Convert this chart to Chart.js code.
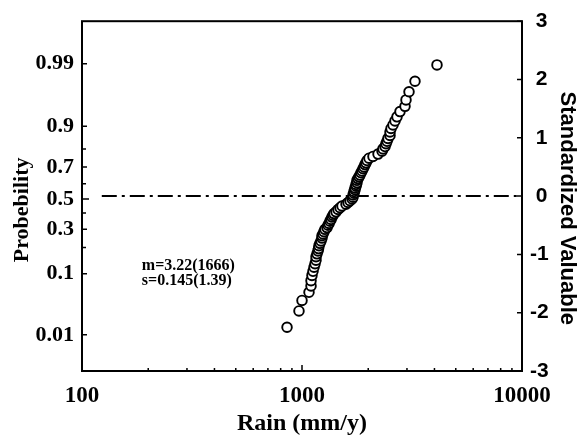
<!DOCTYPE html>
<html>
<head>
<meta charset="utf-8">
<script src="https://cdn.jsdelivr.net/npm/chart.js@4.4.1/dist/chart.umd.min.js"></script>
<style>
  html, body { margin: 0; padding: 0; background: #fff; }
  #wrap { width: 580px; height: 440px; }
</style>
</head>
<body>
<div id="wrap"><canvas id="rain-plot" width="580" height="440"></canvas></div>
<script>
// annual rain (mm/y), sorted
const rain = [855, 969, 1000, 1076, 1099, 1099, 1110, 1122, 1134, 1146,
  1158, 1158, 1170, 1182, 1189, 1195, 1207, 1220, 1233, 1233,
  1246, 1259, 1272, 1299, 1313, 1327, 1341, 1355, 1369, 1384,
  1398, 1428, 1458, 1489, 1520, 1585, 1619, 1653, 1689, 1706,
  1706, 1724, 1724, 1742, 1742, 1761, 1761, 1778, 1778, 1797,
  1816, 1835, 1854, 1874, 1894, 1913, 1933, 1954, 1975, 2016,
  2102, 2216, 2311, 2335, 2384, 2409, 2435, 2460, 2512, 2512,
  2539, 2592, 2647, 2703, 2789, 2939, 2970, 3065, 3263, 4108];

// standardized value of each point
const stdValue = [-2.25, -1.97, -1.79, -1.65, -1.54, -1.45, -1.36, -1.29, -1.22, -1.16,
  -1.10, -1.04, -0.99, -0.94, -0.90, -0.85, -0.81, -0.77, -0.72, -0.68,
  -0.65, -0.61, -0.57, -0.54, -0.50, -0.47, -0.43, -0.40, -0.36, -0.33,
  -0.30, -0.27, -0.23, -0.20, -0.17, -0.14, -0.11, -0.08, -0.05, -0.02,
  0.02, 0.05, 0.08, 0.11, 0.14, 0.17, 0.20, 0.23, 0.27, 0.30,
  0.33, 0.36, 0.40, 0.43, 0.47, 0.50, 0.54, 0.57, 0.61, 0.65,
  0.68, 0.72, 0.77, 0.81, 0.85, 0.90, 0.94, 0.99, 1.04, 1.10,
  1.16, 1.22, 1.29, 1.36, 1.45, 1.54, 1.65, 1.79, 1.97, 2.25];

// probability axis: labels and where they sit on the standardized scale (as drawn)
const probLabels = ['0.01', '0.1', '0.3', '0.5', '0.7', '0.9', '0.99'];
const probZ = [-2.38, -1.33, -0.57, -0.05, 0.50, 1.20, 2.27];
const probMinorZ = [-0.88, -0.29, 0.21, 0.81];

const xTicks = [100, 1000, 10000];
const xMinor = [200, 300, 400, 500, 600, 700, 800, 900, 2000, 3000, 4000, 5000, 6000, 7000, 8000, 9000];
const stdTicks = [-3, -2, -1, 0, 1, 2, 3];

const meanLine = [{x: 123, y: 0}, {x: 10000, y: 0}];
const notes = [
  {x: 187, y: -1.19, text: 'm=3.22(1666)'},
  {x: 187, y: -1.45, text: 's=0.145(1.39)'}
];

const serif = 'Liberation Serif, Times New Roman, serif';
const sans = 'Liberation Sans, Arial, sans-serif';

const pluginFrame = {
  id: 'frame',
  afterDraw: (chart) => {
    var ctx = chart.ctx,
    area = chart.chartArea,
    xs = chart.scales.x,
    ys = chart.scales.y;
    ctx.save();
    ctx.strokeStyle = '#000';
    ctx.lineWidth = 2;
    ctx.strokeRect(area.left, area.top, area.right - area.left, area.bottom - area.top);

    ctx.lineWidth = 1.5;
    ctx.beginPath();
    probZ.forEach((z, i) => {
      var py = ys.getPixelForValue(z);
      ctx.moveTo(area.left, py);
      ctx.lineTo(area.left + (probLabels[i] === '0.5' ? 7 : 5), py);
    });
    probMinorZ.forEach(z => {
      var py = ys.getPixelForValue(z);
      ctx.moveTo(area.left, py);
      ctx.lineTo(area.left + 4, py);
    });
    stdTicks.forEach(v => {
      var py = ys.getPixelForValue(v);
      ctx.moveTo(area.right, py);
      ctx.lineTo(area.right - 5, py);
    });
    xTicks.forEach(v => {
      var px = xs.getPixelForValue(v);
      ctx.moveTo(px, area.bottom);
      ctx.lineTo(px, area.bottom - 6);
    });
    xMinor.forEach(v => {
      var px = xs.getPixelForValue(v);
      ctx.moveTo(px, area.bottom);
      ctx.lineTo(px, area.bottom - 3);
    });
    ctx.stroke();

    ctx.fillStyle = '#000';
    ctx.font = 'bold 16px ' + serif;
    ctx.textAlign = 'left';
    ctx.textBaseline = 'middle';
    notes.forEach(n => {
      ctx.fillText(n.text, xs.getPixelForValue(n.x), ys.getPixelForValue(n.y));
    });
    ctx.restore();
  }
};

window.addEventListener('load', () => {
  var points = rain.map((v, i) => ({x: v, y: stdValue[i]}));

  var config = {
    type: 'scatter',
    data: {
      datasets: [
        {
          data: points,
          xAxisID: 'x',
          yAxisID: 'y',
          pointStyle: 'circle',
          pointRadius: 4.8,
          pointBorderWidth: 1.9,
          borderColor: '#000',
          backgroundColor: '#fff',
          order: 1
        },
        {
          type: 'line',
          data: meanLine,
          xAxisID: 'x',
          yAxisID: 'y',
          borderColor: '#000',
          borderWidth: 2,
          borderDash: [15, 5, 3, 5],
          pointRadius: 0,
          order: 2
        }
      ]
    },
    options: {
      responsive: false,
      animation: false,
      layout: { padding: { top: 19, left: 0, right: 0, bottom: 0 } },
      plugins: {
        legend: { display: false },
        tooltip: { enabled: false }
      },
      scales: {
        x: {
          type: 'logarithmic',
          position: 'bottom',
          min: 100,
          max: 10000,
          afterBuildTicks: s => { s.ticks = xTicks.map(v => ({value: v})); },
          afterFit: s => { s.height = 69; },
          ticks: {
            callback: v => String(v),
            autoSkip: false,
            maxRotation: 0,
            padding: 11,
            color: '#000',
            font: { family: serif, weight: 'bold', size: 23 }
          },
          grid: { display: false, drawTicks: false },
          border: { display: false },
          title: {
            display: true,
            text: 'Rain (mm/y)',
            color: '#000',
            font: { family: serif, weight: 'bold', size: 24 },
            padding: { top: 0, bottom: 2 }
          }
        },
        p: {
          type: 'linear',
          position: 'left',
          min: -3,
          max: 3,
          afterBuildTicks: s => { s.ticks = probZ.map(v => ({value: v})); },
          afterFit: s => { s.width = 82; },
          ticks: {
            callback: (v, i) => probLabels[i],
            autoSkip: false,
            padding: 8,
            color: '#000',
            font: { family: serif, weight: 'bold', size: 22 }
          },
          grid: { display: false, drawTicks: false },
          border: { display: false },
          title: {
            display: true,
            // trailing spaces push the title a little below the centre, as in the original
            text: 'Probebility     ',
            color: '#000',
            font: { family: serif, weight: 'bold', size: 22 },
            padding: { top: 9, bottom: 0 }
          }
        },
        y: {
          type: 'linear',
          position: 'right',
          min: -3,
          max: 3,
          afterBuildTicks: s => { s.ticks = stdTicks.map(v => ({value: v})); },
          afterFit: s => { s.width = 58; },
          ticks: {
            // keep digits in one column, the minus sign hangs to the left
            callback: v => (v < 0 ? String(v) : ' ' + v),
            autoSkip: false,
            crossAlign: 'near',
            padding: 8,
            color: '#000',
            font: { family: sans, weight: 'bold', size: 21 }
          },
          grid: { display: false, drawTicks: false },
          border: { display: false },
          title: {
            display: true,
            text: '    Standardized Valuable',
            color: '#000',
            font: { family: sans, weight: 'bold', size: 22 },
            padding: { top: 0, bottom: 0 }
          }
        }
      }
    },
    plugins: [pluginFrame]
  };

  if (document.getElementById('rain-plot')) {
    const ctx = document.getElementById('rain-plot').getContext('2d');
    window.rainChart = new Chart(ctx, config);
  }
});
</script>
</body>
</html>
